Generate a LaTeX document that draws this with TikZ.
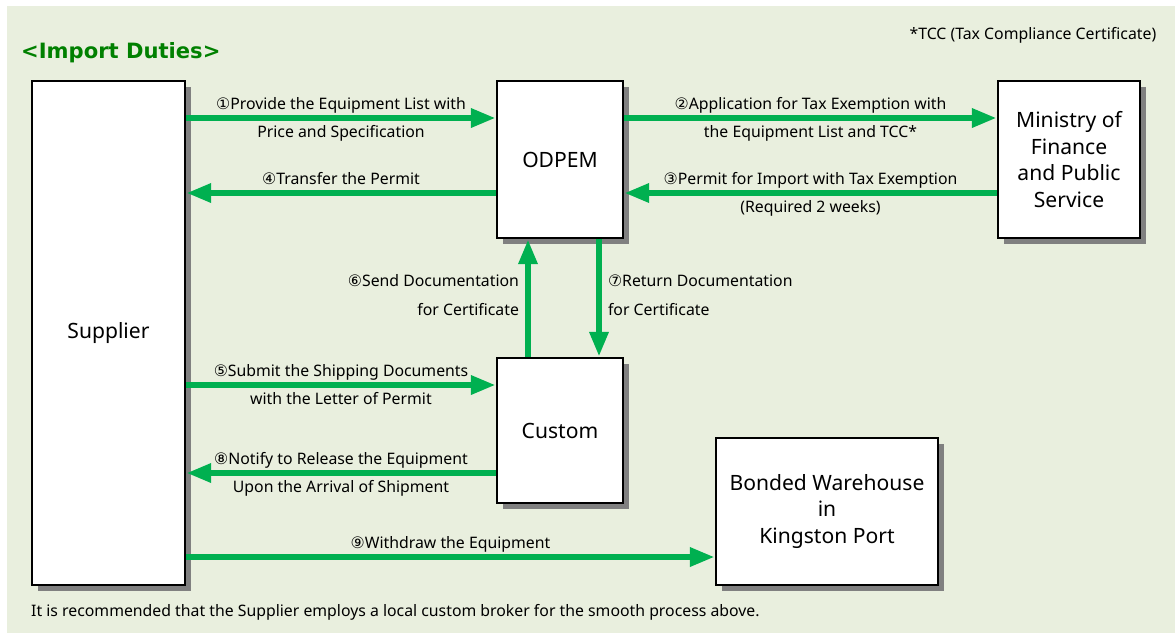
\documentclass[tikz,border=0pt]{standalone}
\usepackage{fontspec}
\setmainfont{Noto Sans}
\newfontfamily\symf{DejaVu Sans}
\newfontfamily\titf{DejaVu Sans}
\usepackage{tikz}
\usetikzlibrary{
    arrows.meta,
    shadows
}
\definecolor{fondo}{RGB}{233,239,222}
\definecolor{flecha}{RGB}{0,176,80}
\definecolor{titulo}{RGB}{0,128,0}
\tikzset{
    >={Triangle[length=5mm,width=3.6mm]},
    caja/.style={
        draw,
        line width=1.4pt,
        fill=white,
        align=center,
        font=\fontsize{12}{15}\selectfont,
        drop shadow={shadow xshift=1.2mm, shadow yshift=-1.2mm,
                     fill=black!50, opacity=1}
    },
    flujo/.style={->, color=flecha, line width=3.6pt},
    etqv/.style={font=\fontsize{9}{16.5}\selectfont, text=black},
    etq/.style={etqv, text height=1.6ex, text depth=0.5ex, inner ysep=0.6pt}
}

\begin{document}
\begin{tikzpicture}

    \useasboundingbox (0,0) rectangle (23.5,-12.66);
    \fill[fondo] (0.14,-0.12) rectangle (23.5,-12.66);

    % Textos
    \node[anchor=west, text=titulo, font=\titf\bfseries\fontsize{12}{15}\selectfont]
        (tit) at (0.3,-1.06) {<Import Duties>};
    \node[etq, anchor=east] (tcc) at (23.25,-0.68)
        {*TCC (Tax Compliance Certificate)};
    \node[etq, anchor=west] (nota) at (0.5,-12.22)
        {It is recommended that the Supplier employs a local custom broker for the smooth process above.};

    % Cajas
    \node[caja, minimum width=3.06cm, minimum height=10.08cm] (sup)   at (2.17,-6.66)  {Supplier};
    \node[caja, minimum width=2.52cm, minimum height=3.14cm]  (odpem) at (11.2,-3.19)  {ODPEM};
    \node[caja, minimum width=2.84cm, minimum height=3.14cm]  (mof)   at (21.38,-3.19) {Ministry of\\Finance\\and Public\\Service};
    \node[caja, minimum width=2.52cm, minimum height=2.9cm]   (cus)   at (11.2,-8.61)  {Custom};
    \node[caja, minimum width=4.44cm, minimum height=2.94cm]  (bw)    at (16.54,-10.23) {Bonded Warehouse\\in\\Kingston Port};

    % Flujos
    \path[flujo]

        % Proveedor <-> ODPEM
        ([yshift=8.3mm]odpem.west -| sup.east)
            edge node[etq, above] {{\symf ①}Provide the Equipment List with}
                 node[etq, below] {Price and Specification}
                 ([yshift=8.3mm]odpem.west)
        ([yshift=-6.7mm]odpem.west)
            edge node[etq, above] {{\symf ④}Transfer the Permit}
                 ([yshift=-6.7mm]odpem.west -| sup.east)

        % ODPEM <-> Ministerio
        ([yshift=8.3mm]odpem.east)
            edge node[etq, above] {{\symf ②}Application for Tax Exemption with}
                 node[etq, below] {the Equipment List and TCC*}
                 ([yshift=8.3mm]mof.west)
        ([yshift=-6.7mm]mof.west)
            edge node[etq, above] {{\symf ③}Permit for Import with Tax Exemption}
                 node[etq, below] {(Required 2 weeks)}
                 ([yshift=-6.7mm]odpem.east)

        % ODPEM <-> Aduana
        ([xshift=-6.4mm]cus.north)
            edge node[etqv, left, align=right, yshift=0.6mm] {{\symf ⑥}Send Documentation\\for Certificate}
                 ([xshift=-6.4mm]odpem.south)
        ([xshift=7.8mm]odpem.south)
            edge node[etqv, right, align=left, yshift=0.6mm] {{\symf ⑦}Return Documentation\\for Certificate}
                 ([xshift=7.8mm]cus.north)

        % Proveedor <-> Aduana
        ([yshift=9.1mm]cus.west -| sup.east)
            edge node[etq, above] {{\symf ⑤}Submit the Shipping Documents}
                 node[etq, below] {with the Letter of Permit}
                 ([yshift=9.1mm]cus.west)
        ([yshift=-8.5mm]cus.west)
            edge node[etq, above] {{\symf ⑧}Notify to Release the Equipment}
                 node[etq, below] {Upon the Arrival of Shipment}
                 ([yshift=-8.5mm]cus.west -| sup.east)

        % Proveedor -> Almacen
        ([yshift=-9.1mm]bw.west -| sup.east)
            edge node[etq, above] {{\symf ⑨}Withdraw the Equipment}
                 ([yshift=-9.1mm]bw.west);

\end{tikzpicture}
\end{document}
